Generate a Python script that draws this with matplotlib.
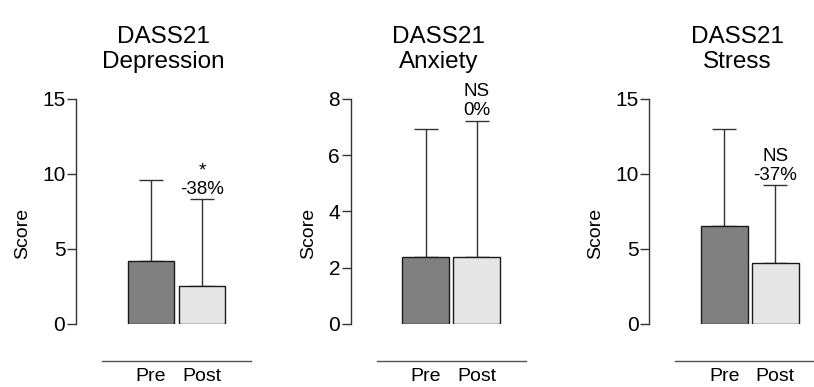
import matplotlib
matplotlib.use('Agg')
import matplotlib.pyplot as plt
import matplotlib.transforms as mtransforms

plt.rcParams['font.family'] = ['Liberation Sans', 'DejaVu Sans']

titles = ['DASS21\nDepression', 'DASS21\nAnxiety', 'DASS21\nStress']
groups = ['Pre', 'Post']
means = [[4.2, 2.55], [2.38, 2.38], [6.5, 4.05]]
errs = [[5.4, 5.75], [4.54, 4.85], [6.5, 5.2]]
notes = ['*\n-38%', 'NS\n0%', 'NS\n-37%']
ylims = [15, 8, 15]
yticks = [[0, 5, 10, 15], [0, 2, 4, 6, 8], [0, 5, 10, 15]]

colors = ['#808080', '#e6e6e6']
line_c = '#333333'

fig = plt.figure(figsize=(8.14, 3.87), dpi=100)
lefts = [76 / 814, 350.7 / 814, 649.3 / 814]

for i in range(3):
    ax = fig.add_axes([lefts[i], 0.1628, 0.2156, 0.5814])
    x = [0, 1]
    ax.bar(x, means[i], width=0.92, color=colors, edgecolor='#1a1a1a', linewidth=1.0, zorder=2)
    ax.errorbar(x, means[i], yerr=[[0, 0], errs[i]], fmt='none', ecolor=line_c,
                elinewidth=1.0, capsize=8.3, capthick=1.0, zorder=1)
    ax.set_xlim(-1.47, 1.97)
    ax.set_ylim(0, ylims[i])
    ax.set_yticks(yticks[i])
    ax.set_xticks(x)
    ax.set_xticklabels(groups, fontsize=14)
    ax.tick_params(axis='x', length=0, pad=32)
    ax.tick_params(axis='y', direction='out', length=6.7, width=1.0, color=line_c,
                   pad=1, labelsize=15)
    for s in ['top', 'right', 'bottom']:
        ax.spines[s].set_visible(False)
    ax.spines['left'].set_color(line_c)
    ax.spines['left'].set_linewidth(1.0)
    ax.set_ylabel('Score', fontsize=14, labelpad=8)
    ax.yaxis.label.set_y(0.402)
    ax.set_title(titles[i], fontsize=17.5, pad=22, linespacing=1.2)

    # separator line under the bars
    trans = mtransforms.blended_transform_factory(ax.transData, ax.transAxes)
    ax.plot([-0.96, 1.97], [-0.164, -0.164], color='#555555', linewidth=1.0,
            transform=trans, clip_on=False)

    ax.annotate(notes[i], xy=(1, means[i][1] + errs[i][1]), xytext=(0, 1),
                textcoords='offset points', ha='center', va='bottom',
                fontsize=13.5, linespacing=1.15, multialignment='center')

fig.savefig('out.png', dpi=100)
